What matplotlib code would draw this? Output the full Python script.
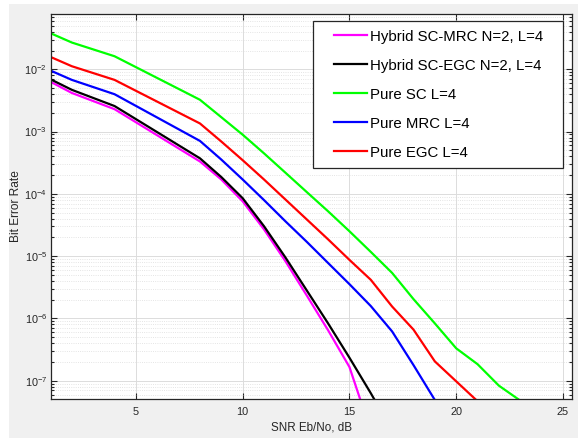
import numpy as np
import matplotlib
matplotlib.use("Agg")
import matplotlib.pyplot as plt
from matplotlib.legend_handler import HandlerLine2D
from matplotlib.patches import Rectangle
from matplotlib.ticker import LogLocator, LogFormatterSciNotation, NullFormatter, FixedLocator

plt.rcParams['font.family'] = ['Liberation Sans', 'DejaVu Sans']
plt.rcParams['mathtext.default'] = 'regular'

# ---------------- data ----------------
snr_hyb_mrc = [1, 2, 4, 8, 9, 10, 11, 12, 13, 14, 15, 16]
ber_hyb_mrc = [6.31e-3, 4.17e-3, 2.29e-3, 3.31e-4, 1.70e-4, 7.59e-5, 2.69e-5,
               8.32e-6, 2.34e-6, 6.46e-7, 1.66e-7, 1.55e-8]

snr_hyb_egc = [1, 2, 4, 8, 9, 10, 11, 12, 13, 14, 15, 16, 17]
ber_hyb_egc = [6.92e-3, 4.68e-3, 2.57e-3, 3.72e-4, 1.86e-4, 8.51e-5, 3.02e-5,
               9.55e-6, 2.82e-6, 8.32e-7, 2.34e-7, 6.3e-8, 1.58e-8]

snr_sc = [1, 2, 4, 8, 9, 10, 11, 12, 13, 14, 15, 16, 17, 18, 19, 20, 21, 22, 23]
ber_sc = [3.80e-2, 2.69e-2, 1.62e-2, 3.24e-3, 1.70e-3, 8.91e-4, 4.47e-4, 2.19e-4,
          1.07e-4, 5.25e-5, 2.51e-5, 1.17e-5, 5.37e-6, 2.04e-6, 8.32e-7, 3.31e-7,
          1.84e-7, 8.32e-8, 4.79e-8]

snr_mrc = [1, 2, 4, 8, 9, 10, 11, 12, 13, 14, 15, 16, 17, 18, 19]
ber_mrc = [9.55e-3, 6.76e-3, 3.98e-3, 7.08e-4, 3.55e-4, 1.70e-4, 7.94e-5, 3.63e-5,
           1.70e-5, 7.76e-6, 3.55e-6, 1.58e-6, 6.17e-7, 1.78e-7, 4.9e-8]

snr_egc = [1, 2, 4, 8, 9, 10, 11, 12, 13, 14, 15, 16, 17, 18, 19, 20, 21]
ber_egc = [1.58e-2, 1.12e-2, 6.76e-3, 1.35e-3, 6.92e-4, 3.47e-4, 1.70e-4, 8.13e-5,
           3.89e-5, 1.86e-5, 8.71e-6, 4.17e-6, 1.55e-6, 6.61e-7, 2.04e-7, 9.77e-8,
           4.68e-8]

labels = ["Hybrid SC-MRC N=2, L=4", "Hybrid SC-EGC N=2, L=4", "Pure SC L=4",
          "Pure MRC L=4", "Pure EGC L=4"]
colors = ["#ff00ff", "#000000", "#00ff00", "#0000ff", "#ff0000"]
xticks = [5, 10, 15, 20, 25]
yticks = [1e-7, 1e-6, 1e-5, 1e-4, 1e-3, 1e-2]

# ---------------- figure ----------------
W, H = 578, 441
fig = plt.figure(figsize=(W / 100, H / 100), dpi=100, facecolor="white")
fig.patches.append(Rectangle((9 / W, 3 / H), 1 - 9 / W, 434 / H,
                             transform=fig.transFigure, facecolor="#f0f0f0",
                             edgecolor="none", zorder=-10))

ax_l, ax_r, ax_t, ax_b = 50.5, 571.5, 14, 399
ax = fig.add_axes([ax_l / W, 1 - ax_b / H, (ax_r - ax_l) / W, (ax_b - ax_t) / H])
ax.set_facecolor("white")

series = [(snr_hyb_mrc, ber_hyb_mrc), (snr_hyb_egc, ber_hyb_egc), (snr_sc, ber_sc),
          (snr_mrc, ber_mrc), (snr_egc, ber_egc)]
lines = []
for (x, y), c, lab in zip(series, colors, labels):
    ln, = ax.semilogy(x, y, color=c, lw=1.6, label=lab, solid_joinstyle="round")
    lines.append(ln)

ax.set_xlim(1, 25.4)
ax.set_ylim(10 ** -7.294, 10 ** -1.112)
ax.xaxis.set_major_locator(FixedLocator(xticks))
ax.yaxis.set_major_locator(FixedLocator(yticks))
ax.yaxis.set_minor_locator(LogLocator(base=10, subs=np.arange(2, 10), numticks=50))
ax.yaxis.set_major_formatter(LogFormatterSciNotation())
ax.yaxis.set_minor_formatter(NullFormatter())

tc = "#262626"
ax.tick_params(axis="both", which="both", direction="in", top=True, right=True,
               colors=tc, labelsize=7.8, width=0.8)
ax.tick_params(axis="both", which="major", length=4.5)
ax.tick_params(axis="y", which="minor", length=2.5)
ax.tick_params(axis="x", pad=6.0)
ax.tick_params(axis="y", pad=2.5)
for s in ax.spines.values():
    s.set_color(tc)
    s.set_linewidth(0.9)

ax.grid(True, which="major", color="#dcdcdc", lw=0.7, ls="-")
ax.grid(True, which="minor", axis="y", color="#dcdcdc", lw=0.6, ls=":")
ax.set_axisbelow(True)

ax.set_xlabel("SNR Eb/No, dB", fontsize=8.4, color=tc)
ax.set_ylabel("Bit Error Rate", fontsize=8.6, color=tc)
ax.yaxis.set_label_coords((22 - ax_l) / (ax_r - ax_l), 0.5)
ax.xaxis.set_label_coords(0.5, (ax_b - 421) / (ax_b - ax_t))


class OffsetLine(HandlerLine2D):
    def __init__(self, left, **kw):
        super().__init__(**kw)
        self.left = left

    def get_xdata(self, legend, xdescent, ydescent, width, height, fontsize):
        xd = np.array([-xdescent + self.left * fontsize, -xdescent + width])
        return xd, xd


fs = 10.8
leg = ax.legend(handles=lines, loc="upper left",
                bbox_to_anchor=(313 / W, 1 - 169 / H, 250 / W, 148 / H),
                bbox_transform=fig.transFigure, mode="expand", borderaxespad=0,
                borderpad=0.58, fontsize=fs, handlelength=3.0, handletextpad=0.2,
                labelspacing=1.0, fancybox=False, framealpha=1,
                edgecolor=tc, handler_map={ln: OffsetLine(0.8) for ln in lines})
leg.get_frame().set_linewidth(0.9)
for t in leg.get_texts():
    t.set_color("#000000")

fig.savefig("out.png", dpi=100, facecolor=fig.get_facecolor())
